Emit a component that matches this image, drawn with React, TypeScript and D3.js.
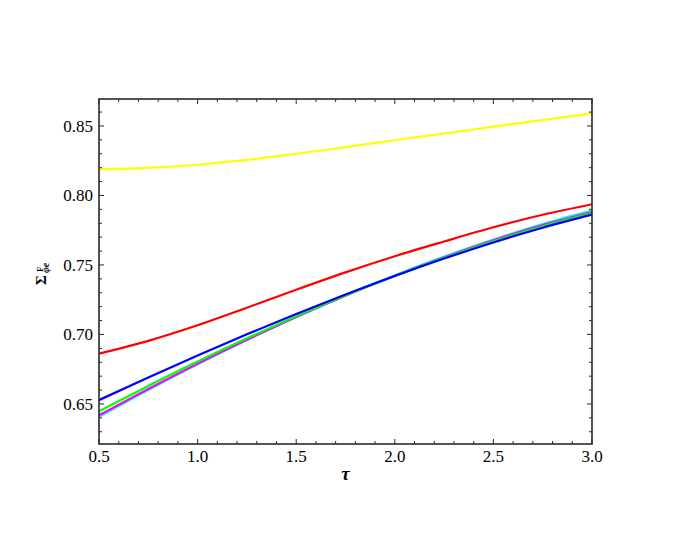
import React from "react";
import * as d3 from "d3";

const tau = [0.5, 0.75, 1.0, 1.25, 1.5, 1.75, 2.0, 2.25, 2.5, 2.75, 3.0];

const yellowVals = [0.8189, 0.8199, 0.8221, 0.8256, 0.8300, 0.8348, 0.8397, 0.8446, 0.8495, 0.8543, 0.8591];
const redVals = [0.6862, 0.6954, 0.7066, 0.7192, 0.7322, 0.7447, 0.7563, 0.7669, 0.7771, 0.7861, 0.7937];
const blueVals = [0.6528, 0.6690, 0.6848, 0.7001, 0.7148, 0.7288, 0.7421, 0.7546, 0.7662, 0.7768, 0.7862];
const greenVals = [0.6448, 0.6630, 0.6805, 0.6972, 0.7131, 0.7281, 0.7421, 0.7551, 0.7670, 0.7778, 0.7873];
const magentaVals = [0.6418, 0.6608, 0.6790, 0.6962, 0.7126, 0.7279, 0.7422, 0.7555, 0.7677, 0.7787, 0.7881];
const cyanVals = [0.6407, 0.6600, 0.6785, 0.6960, 0.7126, 0.7281, 0.7426, 0.7560, 0.7683, 0.7795, 0.7891];

const seriesList = [
  { name: "cyan", color: "#00ffff", values: cyanVals },
  { name: "magenta", color: "#ff00ff", values: magentaVals },
  { name: "green", color: "#00ff00", values: greenVals },
  { name: "blue", color: "#0000ff", values: blueVals },
  { name: "red", color: "#ff0000", values: redVals },
  { name: "yellow", color: "#ffff00", values: yellowVals },
];

const xMajorTicks = [0.5, 1.0, 1.5, 2.0, 2.5, 3.0];
const yMajorTicks = [0.65, 0.7, 0.75, 0.8, 0.85];

const W = 692;
const H = 544;
const left = 99;
const right = 592;
const top = 99;
const bottom = 444;

const font = "'Times New Roman', Times, 'Liberation Serif', serif";

export default function App() {
  const x = d3.scaleLinear().domain([0.5, 3.0]).range([left, right]);
  const y = d3.scaleLinear().domain([0.6212, 0.8694]).range([bottom, top]);

  const line = d3
    .line<number>()
    .x((_, i) => x(tau[i]))
    .y((d) => y(d))
    .curve(d3.curveMonotoneX);

  const xMinor = d3.range(5, 31).map((v) => v / 10);
  const yMinor = d3.range(63, 87).map((v) => v / 100);
  const frame = "#2a2a2a";

  return (
    <div style={{ fontFamily: font }}>
      <svg
        width={W}
        height={H}
        style={{ position: "absolute", left: 0, top: 0, background: "#fff", fontFamily: font }}
      >
        <rect x={0} y={0} width={W} height={H} fill="#fff" />
        <defs>
          <clipPath id="plotclip">
            <rect x={left} y={top} width={right - left} height={bottom - top} />
          </clipPath>
        </defs>
        <g clipPath="url(#plotclip)">
          {seriesList.map((s) => (
            <path
              key={s.name}
              d={line(s.values) || ""}
              fill="none"
              stroke={s.color}
              strokeWidth={2.2}
            />
          ))}
        </g>
        <g stroke={frame} strokeWidth={1}>
          {xMinor.map((v) => {
            const major = xMajorTicks.some((m) => Math.abs(m - v) < 1e-6);
            const len = major ? 5 : 3;
            return (
              <g key={"xt" + v}>
                <line x1={x(v)} x2={x(v)} y1={bottom} y2={bottom - len} />
                <line x1={x(v)} x2={x(v)} y1={top} y2={top + len} />
              </g>
            );
          })}
          {yMinor.map((v) => {
            const major = yMajorTicks.some((m) => Math.abs(m - v) < 1e-6);
            const len = major ? 5 : 3;
            return (
              <g key={"yt" + v}>
                <line x1={left} x2={left + len} y1={y(v)} y2={y(v)} />
                <line x1={right} x2={right - len} y1={y(v)} y2={y(v)} />
              </g>
            );
          })}
        </g>
        <rect
          x={left}
          y={top}
          width={right - left}
          height={bottom - top}
          fill="none"
          stroke={frame}
          strokeWidth={1.6}
        />
        <g fill="#000" fontSize={17}>
          {xMajorTicks.map((v) => (
            <text key={"xl" + v} x={x(v)} y={bottom + 18} textAnchor="middle">
              {d3.format(".1f")(v)}
            </text>
          ))}
          {yMajorTicks.map((v) => (
            <text key={"yl" + v} x={left - 6} y={y(v) + 6} textAnchor="end">
              {d3.format(".2f")(v)}
            </text>
          ))}
        </g>
        <text
          x={(left + right) / 2}
          y={480}
          textAnchor="middle"
          fontSize={19}
          fontStyle="italic"
          fontWeight="bold"
        >
          τ
        </text>
        <g transform="translate(46,285) rotate(-90)" fontWeight="bold">
          <text x={0} y={0} fontSize={15}>
            Σ
          </text>
          <text x={13} y={-3} fontSize={9}>
            F
          </text>
          <text x={12} y={2.5} fontSize={10} fontStyle="italic">
            φe
          </text>
        </g>
      </svg>
    </div>
  );
}
